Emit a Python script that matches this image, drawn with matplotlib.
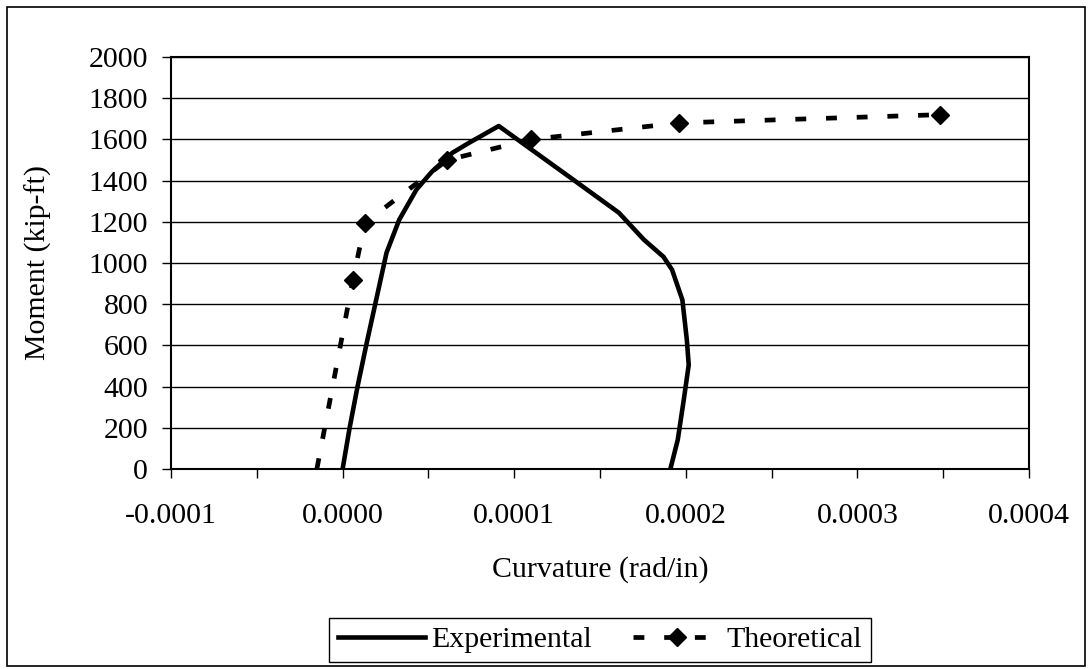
import matplotlib
matplotlib.use('Agg')
import matplotlib.pyplot as plt
from matplotlib.patches import Rectangle
from matplotlib.ticker import MultipleLocator

plt.rcParams['font.family'] = ['Liberation Serif', 'DejaVu Serif']
plt.rcParams['font.size'] = 21.5

# Experimental moment-curvature curve (rad/in, kip-ft)
exp_curv = [0.0, 0.0000041, 0.0000087, 0.000014, 0.0000198, 0.0000256, 0.000033,
            0.000043, 0.000052, 0.000064, 0.000074, 0.00008, 0.000091,
            0.000132, 0.000161, 0.0001756, 0.000187, 0.000192,
            0.000198, 0.0002006, 0.0002017, 0.0001988, 0.0001953, 0.000191]
exp_moment = [0, 200, 400, 610, 830, 1050, 1210,
              1356, 1443, 1535, 1585, 1613, 1665,
              1419, 1244, 1113, 1030, 967,
              821, 627, 505, 335, 141, 0]

# Theoretical curve
theo_curv = [-0.000015, 0.000006, 0.000013, 0.000061, 0.00011, 0.000196, 0.000348]
theo_moment = [0, 918, 1195, 1500, 1600, 1680, 1720]

fig = plt.figure(figsize=(10.92, 6.69), dpi=100)
ax = fig.add_axes([171/1092, 1 - 469/669, 858/1092, 412/669])

ax.plot(exp_curv, exp_moment, color='black', lw=3.3, solid_joinstyle='round',
        label='Experimental', zorder=3)
ax.plot(theo_curv, theo_moment, color='black', lw=3.4, linestyle=(0, (2.3, 4.2)),
        marker='D', markersize=9.5, markevery=list(range(1, len(theo_curv))),
        label='Theoretical', zorder=4)

ax.set_xlim(-0.0001, 0.0004)
ax.set_ylim(0, 2000)
ax.xaxis.set_major_locator(MultipleLocator(0.0001))
ax.xaxis.set_minor_locator(MultipleLocator(0.00005))
ax.yaxis.set_major_locator(MultipleLocator(200))
ax.set_xticklabels([f'{v:.4f}' for v in ax.get_xticks()])
ax.tick_params(axis='both', which='both', direction='out', length=6.5, width=1, color='black')
ax.tick_params(axis='x', which='major', pad=18)
ax.tick_params(axis='y', pad=10)
ax.grid(axis='y', color='black', lw=1)
ax.set_axisbelow(True)
for s in ax.spines.values():
    s.set_linewidth(1.5)
    s.set_color('black')

ax.set_xlabel('Curvature (rad/in)')
ax.xaxis.label.set_va('center')
ax.xaxis.set_label_coords(0.5, -(570 - 469) / 412)
ax.set_ylabel('Moment (kip-ft)')
ax.yaxis.label.set_va('center')
ax.yaxis.set_label_coords(-(171 - 38) / 858, 0.5)

leg = fig.legend(loc='center', bbox_to_anchor=(600/1092, 1 - 640/669), ncol=2,
                 frameon=True, fancybox=False, edgecolor='black', framealpha=1,
                 handlelength=2.9, handletextpad=0.2, columnspacing=1.4,
                 borderpad=0.3, borderaxespad=0)
leg.get_frame().set_linewidth(1)

# outer chart border
fig.patches.append(Rectangle((7/1092, 3/669), 1078/1092, 659/669, transform=fig.transFigure,
                             fill=False, edgecolor='black', lw=1.2))

fig.savefig('out.png', dpi=100, facecolor='white')
